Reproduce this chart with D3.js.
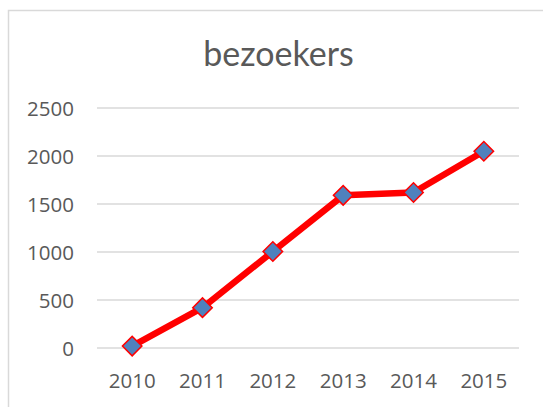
<!DOCTYPE html>
<html>
<head>
<meta charset="utf-8">
<script src="https://cdn.jsdelivr.net/npm/d3@7"></script>
<style>
  html, body { margin: 0; padding: 0; background: #fff; }
  svg { display: block; }
</style>
</head>
<body>
<svg id="chart" width="543" height="407"></svg>
<script>
// Chart data
const years = ["2010", "2011", "2012", "2013", "2014", "2015"];
const visitors = [20, 420, 1005, 1590, 1620, 2050];
const yTicks = [0, 500, 1000, 1500, 2000, 2500];
const title = "bezoekers";

const W = 543, H = 407;
const TITLE_FONT = "Lato, 'Open Sans', sans-serif";
const LABEL_FONT = "'Open Sans', sans-serif";
const TEXT = "#595959";
const GRID = "#d9d9d9";

const svg = d3.select("#chart");

// chart frame (right and bottom edges fall off the picture)
svg.append("rect")
  .attr("x", 8.5).attr("y", 10.5)
  .attr("width", W + 10).attr("height", H + 10)
  .attr("fill", "#fff").attr("stroke", GRID).attr("stroke-width", 1.5);

const plot = { left: 97, right: 519, top: 108, bottom: 348 };

const x = d3.scaleBand().domain(years).range([plot.left, plot.right]);
const y = d3.scaleLinear().domain([0, 2500]).range([plot.bottom, plot.top]);

// gridlines
svg.append("g")
  .selectAll("line")
  .data(yTicks)
  .join("line")
  .attr("x1", plot.left).attr("x2", plot.right)
  .attr("y1", (d) => y(d)).attr("y2", (d) => y(d))
  .attr("stroke", GRID).attr("stroke-width", 1.5);

// y axis labels
const yAxis = svg.append("g")
  .attr("transform", `translate(74,1)`)
  .call(d3.axisLeft(y).tickValues(yTicks).tickFormat(d3.format("d")).tickSize(0).tickPadding(0));
yAxis.select(".domain").remove();
yAxis.selectAll("text")
  .attr("fill", TEXT).attr("font-family", LABEL_FONT).attr("font-size", 20.5);

// x axis labels
const xAxis = svg.append("g")
  .attr("transform", `translate(0,${plot.bottom + 25})`)
  .call(d3.axisBottom(x).tickSize(0).tickPadding(0));
xAxis.select(".domain").remove();
xAxis.selectAll("text")
  .attr("fill", TEXT).attr("font-family", LABEL_FONT).attr("font-size", 20.5);

// title
svg.append("text")
  .attr("x", 278.5).attr("y", 65.5)
  .attr("text-anchor", "middle")
  .attr("fill", TEXT).attr("font-family", TITLE_FONT).attr("font-size", 34)
  .text(title);

// series line
const line = d3.line()
  .x((d, i) => x(years[i]) + x.bandwidth() / 2)
  .y((d) => y(d));

svg.append("path")
  .datum(visitors)
  .attr("d", line)
  .attr("fill", "none")
  .attr("stroke", "#ff0000")
  .attr("stroke-width", 6.5)
  .attr("stroke-linejoin", "round");

// diamond markers
const diamond = d3.symbol().type(d3.symbolSquare).size(190);
svg.append("g")
  .selectAll("path")
  .data(visitors)
  .join("path")
  .attr("d", diamond)
  .attr("transform", (d, i) => `translate(${x(years[i]) + x.bandwidth() / 2},${y(d)}) rotate(45)`)
  .attr("fill", "#4f81bd")
  .attr("stroke", "#ff0000")
  .attr("stroke-width", 1.5);
</script>
</body>
</html>
